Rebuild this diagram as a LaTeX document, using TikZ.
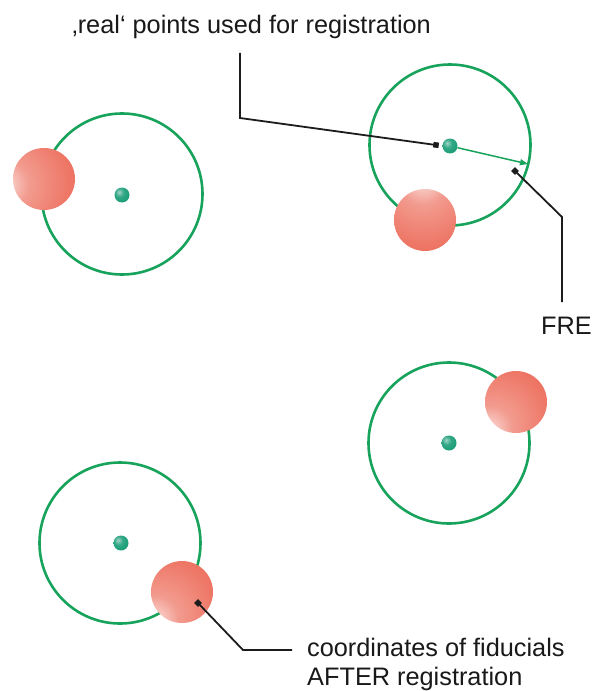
\documentclass[tikz,border=0pt]{standalone}
\usepackage{fontspec}
\setmainfont{Liberation Sans}
\usetikzlibrary{arrows.meta}

\definecolor{ringgreen}{RGB}{24,163,92}
\definecolor{dotgreen}{RGB}{14,152,112}
\definecolor{sphred}{RGB}{232,74,52}
\definecolor{leader}{RGB}{28,28,28}

% fiducial sphere with its highlight at offset (#2,#3) from the centre
\newcommand\declaresphere[3]{%
  \pgfdeclareradialshading{#1}{\pgfqpoint{#2}{#3}}{%
    color(0bp)=(white); color(2.5bp)=(white); color(8bp)=(sphred!30!white);
    color(18bp)=(sphred!55!white); color(40bp)=(sphred!74!white);
    color(65bp)=(sphred!90!white); color(86bp)=(sphred); color(100bp)=(sphred)}}
\declaresphere{sphleft}{-37bp}{-5bp}
\declaresphere{sphtop}{-2bp}{37bp}
\declaresphere{sphlowleft}{-26bp}{-26bp}

\pgfdeclareradialshading{greendot}{\pgfqpoint{-10bp}{10bp}}{%
  color(0bp)=(dotgreen!40!white); color(15bp)=(dotgreen!85!white);
  color(40bp)=(dotgreen); color(100bp)=(dotgreen!85!black)}

\tikzset{
  ring/.style={circle, draw=ringgreen, line width=2.6bp, minimum size=161bp, inner sep=0pt},
  sphere/.style={circle, minimum size=62bp, inner sep=0pt, shading=#1},
  target/.style={circle, minimum size=15bp, inner sep=0pt, shading=greendot},
  marker/.style={rectangle, fill=leader, minimum size=5.5bp, inner sep=0pt},
  leaderline/.style={draw=leader, line width=1.8bp},
  label/.style={inner sep=0pt, font=\fontsize{25.4}{31}\selectfont, text=black!90}
}

\begin{document}
\begin{tikzpicture}[x=1bp, y=-1bp]
\useasboundingbox[fill=white] (0,0) rectangle (595,691);

% four fiducial sites: tolerance ring, true target and imaged sphere
\node[ring] (r1) at (122,194) {};
\node[ring] (r2) at (450,145) {};
\node[ring] (r3) at (449,443) {};
\node[ring] (r4) at (120,543) {};

\node[sphere=sphleft] (s1) at (44,179) {};
\node[sphere=sphtop] (s2) at (425,220) {};
\node[sphere=sphlowleft] (s3) at (516,402) {};
\node[sphere=sphlowleft] (s4) at (182,592) {};

\node[target] (t1) at (122,195) {};
\node[target] (t2) at (450,146) {};
\node[target] (t3) at (449,443) {};
\node[target] (t4) at (121,543) {};

% registration error vector
\coordinate (fretip) at (528,164);
\draw[ringgreen, line width=1.5bp, -{Triangle[length=8bp,width=6bp]}] (t2) -- (fretip);

% captions
\node[label, anchor=base west] (lreal) at (72,34) {‚real‘ points used for registration};
\node[label, anchor=base west] (lfre) at (541,334) {FRE};
\node[label, anchor=base west] (lcoord1) at (307,656) {coordinates of fiducials};
\node[label, anchor=base west] (lcoord2) at (307,685) {AFTER registration};

% leader lines with square end markers
\node[marker, rotate=-8] (m1) at (436,145) {};
\coordinate (a1) at (240,53);
\coordinate (b1) at (240,118);
\draw[leaderline] (a1) -- (b1) -- (m1.center);

\node[marker, rotate=45] (m2) at (515,171) {};
\coordinate (b2) at (562,217);
\coordinate (a2) at (562,302);
\draw[leaderline] (m2.center) -- (b2) -- (a2);

\node[marker, rotate=45] (m3) at (198,603) {};
\coordinate (b3) at (243,650);
\coordinate (a3) at (292,650);
\draw[leaderline] (m3.center) -- (b3) -- (a3);
\end{tikzpicture}
\end{document}
